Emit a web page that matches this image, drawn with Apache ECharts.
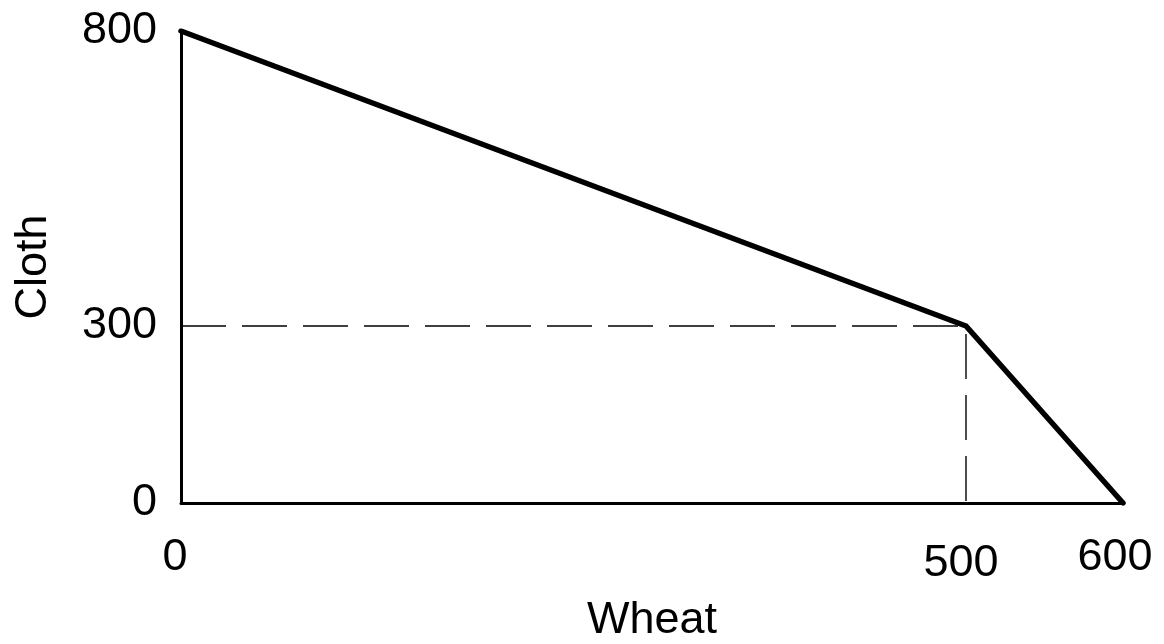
<!DOCTYPE html>
<html>
<head>
<meta charset="utf-8">
<script src="https://cdn.jsdelivr.net/npm/echarts@6/dist/echarts.min.js"></script>
<style>
  html, body { margin: 0; padding: 0; background: #fff; }
  #main { width: 1164px; height: 644px; }
</style>
</head>
<body>
<div id="main"></div>
<script>
// data
var frontier = [[0, 800], [500, 300], [600, 0]];      // production possibility frontier
var guide = [[0, 300], [500, 300], [500, 0]];         // dashed guide to the kink
var xTicks = [0, 500, 600];
var yTicks = [0, 300, 800];

var FONT = 'Liberation Sans, Arial, sans-serif';

var myChart = echarts.init(document.getElementById('main'));

var option = {
    backgroundColor: '#fff',
    animation: false,
    grid: { left: 181, right: 41, top: 31, bottom: 141, outerBoundsMode: 'none' },
    xAxis: {
        type: 'value',
        min: 0,
        max: 600,
        name: 'Wheat',
        nameLocation: 'middle',
        nameGap: 95,
        nameTextStyle: { fontFamily: FONT, fontSize: 45, color: '#000' },
        axisLine: { show: true, lineStyle: { color: '#000', width: 3 } },
        axisTick: { show: false },
        splitLine: { show: false },
        axisLabel: {
            customValues: xTicks,
            margin: 32,
            fontFamily: FONT,
            fontSize: 45,
            color: '#000',
            formatter: function (v) {
                if (v === 500) return '{b|500}';
                if (v === 600) return '{c|600}';
                return '{a|' + v + '}';
            },
            rich: {
                a: { fontFamily: FONT, fontSize: 45, color: '#000', padding: [0, 12, 0, 0] },
                b: { fontFamily: FONT, fontSize: 45, color: '#000', padding: [6, 10, 0, 0] },
                c: { fontFamily: FONT, fontSize: 45, color: '#000', padding: [0, 16, 0, 0] }
            }
        }
    },
    yAxis: {
        type: 'value',
        min: 0,
        max: 800,
        name: 'Cloth',
        nameLocation: 'middle',
        nameGap: 125,
        nameRotate: 90,
        nameTextStyle: { fontFamily: FONT, fontSize: 45, color: '#000' },
        axisLine: { show: true, lineStyle: { color: '#000', width: 3 } },
        axisTick: { show: false },
        splitLine: { show: false },
        axisLabel: {
            customValues: yTicks,
            margin: 24,
            fontFamily: FONT,
            fontSize: 45,
            color: '#000'
        }
    },
    series: [
        {
            type: 'line',
            data: guide,
            symbol: 'none',
            silent: true,
            lineStyle: { color: '#000', width: 1.4, type: [45, 16] },
            z: 1
        },
        {
            type: 'line',
            data: frontier,
            symbol: 'none',
            silent: true,
            lineStyle: { color: '#000', width: 5.5, cap: 'round', join: 'round' },
            z: 3
        }
    ]
};

myChart.setOption(option);
</script>
</body>
</html>
